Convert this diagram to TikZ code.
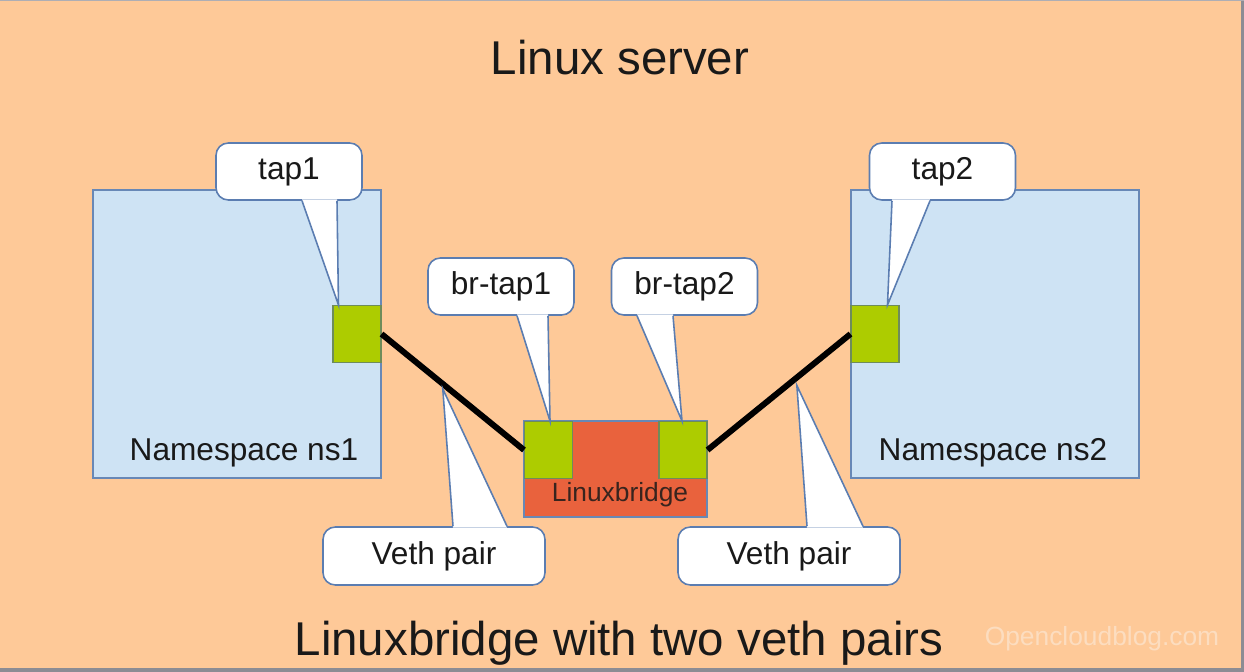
\documentclass[tikz,border=0pt]{standalone}
\usepackage{fontspec}
\setmainfont{Liberation Sans}
\usetikzlibrary{calc}
\definecolor{peach}{RGB}{254,201,152}
\definecolor{nsfill}{RGB}{206,227,244}
\definecolor{nsline}{RGB}{104,136,182}
\definecolor{portgreen}{RGB}{173,204,0}
\definecolor{portline}{RGB}{110,140,90}
\definecolor{bridgered}{RGB}{233,98,61}
\definecolor{calline}{RGB}{91,125,177}
\definecolor{txt}{RGB}{25,25,25}
\definecolor{wmark}{RGB}{252,221,192}
\definecolor{frame}{RGB}{140,140,148}

\begin{document}
\begin{tikzpicture}[x=0.02cm,y=-0.02cm,
  ns box/.style={draw=nsline,fill=nsfill,line width=0.8pt,inner sep=0,
    minimum width=5.76cm,minimum height=5.76cm},
  port/.style={draw=portline,fill=portgreen,line width=0.6pt,inner sep=0,
    minimum width=0.96cm,minimum height=1.14cm},
  bridge box/.style={draw=nsline,fill=bridgered,line width=0.8pt,inner sep=0,
    minimum width=3.66cm,minimum height=1.92cm},
  callout box/.style={draw=calline,fill=white,line width=0.9pt,rounded corners=7pt,
    inner sep=0,minimum width=2.92cm,minimum height=1.14cm,text=txt,
    font=\fontsize{18}{21}\selectfont},
  veth box/.style={callout box,minimum width=4.44cm,minimum height=1.16cm},
  call line/.style={draw=calline,line width=0.9pt,line join=miter},
  veth line/.style={line width=3.4pt,black},
  title/.style={anchor=base,text=txt,font=\fontsize{27}{31}\selectfont},
  label/.style={anchor=base,text=txt,font=\fontsize{18}{21}\selectfont}]
  % background and frame
  \fill[peach] (0,0) rectangle (1244,672);
  \useasboundingbox (0,0) rectangle (1244,672);
  \fill[frame] (0,668) rectangle (1244,672);
  \fill[frame] (1241,0) rectangle (1244,672);
  \draw[frame!70,line width=0.4pt] (0,0.5) -- (1244,0.5);
  \node[title] (top) at (620,75) {Linux server};
  \node[title] (bottom) at (619,655) {Linuxbridge with two veth pairs};
  \node[anchor=base,text=wmark,font=\fontsize{15}{18}\selectfont] (wm) at (1102,645) {Opencloudblog.com};
  % namespaces
  \node[ns box] (ns1) at (237,334) {};
  \node[ns box] (ns2) at (995,334) {};
  \node[label] at (244,460) {Namespace ns1};
  \node[label] at (993,460) {Namespace ns2};
  \node[port] (p1) at (357,334) {};
  \node[port] (p2) at (875,334) {};
  % bridge
  \node[bridge box] (br) at (615.5,469) {};
  \node[port] (bl) at (548.5,450) {};
  \node[port] (bp) at (683,450) {};
  \node[anchor=base,text=txt!85!bridgered,font=\fontsize{15}{17}\selectfont] (brl) at (620,501) {Linuxbridge};
  \draw[veth line] (p1.east) -- (bl.west);
  \draw[veth line] (bp.east) -- (p2.west);
  % callouts
  \coordinate (t1) at ($(p1.north west)+(6,0)$);
  \coordinate (t2) at ($(p2.north west)+(37,0)$);
  \coordinate (t3) at ($(bl.north)+(1.5,0)$);
  \coordinate (t4) at ($(bp.north)+(-1,0)$);
  \coordinate (t5) at ($($(p1.east)!0.43!(bl.west)$)+(0,5)$);
  \coordinate (t6) at ($($(bp.east)!0.625!(p2.west)$)+(0,8)$);
  \node[callout box] (c1) at (289,171.5) {tap1};
  \node[callout box] (c2) at (942.5,171.5) {tap2};
  \node[callout box] (c3) at (501,286.5) {br-tap1};
  \node[callout box] (c4) at (684.5,286.5) {br-tap2};
  \node[veth box] (c5) at (434,556) {Veth pair};
  \node[veth box] (c6) at (789,556) {Veth pair};
  \fill[white] ($(c1.south)+(13,-1.5)$) -- (t1) -- ($(c1.south)+(48,-1.5)$) -- cycle;
  \draw[call line] ($(c1.south)+(13,0)$) -- (t1) -- ($(c1.south)+(48,0)$);
  \fill[white] ($(c2.south)+(-50.5,-1.5)$) -- (t2) -- ($(c2.south)+(-12.5,-1.5)$) -- cycle;
  \draw[call line] ($(c2.south)+(-50.5,0)$) -- (t2) -- ($(c2.south)+(-12.5,0)$);
  \fill[white] ($(c3.south)+(16,-1.5)$) -- (t3) -- ($(c3.south)+(47,-1.5)$) -- cycle;
  \draw[call line] ($(c3.south)+(16,0)$) -- (t3) -- ($(c3.south)+(47,0)$);
  \fill[white] ($(c4.south)+(-47.5,-1.5)$) -- (t4) -- ($(c4.south)+(-11.5,-1.5)$) -- cycle;
  \draw[call line] ($(c4.south)+(-47.5,0)$) -- (t4) -- ($(c4.south)+(-11.5,0)$);
  \fill[white] ($(c5.north)+(19,1.5)$) -- (t5) -- ($(c5.north)+(73,1.5)$) -- cycle;
  \draw[call line] ($(c5.north)+(19,0)$) -- (t5) -- ($(c5.north)+(73,0)$);
  \fill[white] ($(c6.north)+(18,1.5)$) -- (t6) -- ($(c6.north)+(74,1.5)$) -- cycle;
  \draw[call line] ($(c6.north)+(18,0)$) -- (t6) -- ($(c6.north)+(74,0)$);
\end{tikzpicture}
\end{document}
